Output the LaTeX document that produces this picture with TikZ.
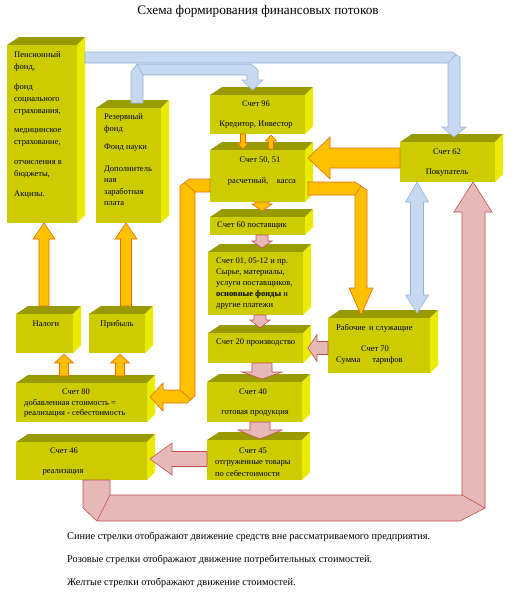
\documentclass[tikz,border=0pt]{standalone}
\usepackage{fontspec}
\setmainfont{Liberation Serif}
\definecolor{frontc}{RGB}{204,204,0}
\definecolor{topc}{RGB}{153,153,0}
\definecolor{sidec}{RGB}{235,235,0}
\definecolor{bluef}{RGB}{198,217,241}
\definecolor{blued}{RGB}{149,179,215}
\definecolor{orangef}{RGB}{255,192,0}
\definecolor{oranged}{RGB}{228,108,10}
\definecolor{pinkf}{RGB}{230,185,184}
\definecolor{pinkd}{RGB}{192,80,77}
\tikzset{
  bluearr/.style={fill=bluef, draw=blued, line width=0.6pt},
  orarr/.style={fill=orangef, draw=oranged, line width=0.6pt},
  pkarr/.style={fill=pinkf, draw=pinkd, line width=0.6pt},
  txt/.style={font=\fontsize{8.5}{12}\selectfont, inner sep=0pt},
  ttl/.style={font=\fontsize{13.2}{15}\selectfont, inner sep=0pt},
  leg/.style={font=\fontsize{10.3}{12}\selectfont, inner sep=0pt, anchor=west},
}
% cube: name, x1, y1, x2, y2 (front face)
\newcommand\cubebox[5]{%
  \fill[topc] (#2,#3) -- (#2+12,#3-8) -- (#4+8,#3-8) -- (#4,#3) -- cycle;
  \fill[sidec] (#4,#3) -- (#4+8,#3-8) -- (#4+8,#5-8) -- (#4,#5) -- cycle;
  \fill[frontc] (#2,#3) rectangle (#4,#5);
  \coordinate (#1) at ({(#2+#4)/2},{(#3+#5)/2});
}
% vertical block arrow: style, cx, y1 (tail), y2 (head base), y3 (tip), shaft half, head half
\newcommand\varr[7]{%
  \draw[#1] (#2-#6,#3) -- (#2+#6,#3) -- (#2+#6,#4) -- (#2+#7,#4) -- (#2,#5)
    -- (#2-#7,#4) -- (#2-#6,#4) -- cycle;
}
% horizontal block arrow: style, cy, x1 (tail), x2 (head base), x3 (tip), shaft half, head half
\newcommand\harr[7]{%
  \draw[#1] (#3,#2-#6) -- (#3,#2+#6) -- (#4,#2+#6) -- (#4,#2+#7) -- (#5,#2)
    -- (#4,#2-#7) -- (#4,#2-#6) -- cycle;
}
\begin{document}
\begin{tikzpicture}[x=1pt,y=-1pt]
\useasboundingbox[fill=white] (0,0) rectangle (517,600);

\node[ttl] (title) at (258,11) {Схема формирования финансовых потоков};

% boxes
\cubebox{bA}{7}{45}{77}{223}
\cubebox{bB}{96}{108}{161}{223}
\cubebox{bC}{210}{95}{305}{134}
\cubebox{bD}{210}{150}{305}{202}
\cubebox{bE}{400}{142}{495}{182}
\cubebox{bF}{210}{217}{305}{235}
\cubebox{bG}{208}{252}{303}{315}
\cubebox{bH}{208}{333}{303}{363}
\cubebox{bI}{207}{382}{302}{422}
\cubebox{bJ}{207}{440}{302}{480}
\cubebox{bK}{328}{318}{430}{373}
\cubebox{bL}{16}{314}{73}{353}
\cubebox{bM}{89}{314}{145}{353}
\cubebox{bN}{16}{383}{147}{422}
\cubebox{bO}{16}{442}{147}{480}

% blue arrows
\draw[bluearr] (131,103) -- (131,72) -- (137,64) -- (251,64) -- (258,70) -- (258,80)
  -- (263,80) -- (252.5,90) -- (242,80) -- (247,80) -- (247,75) -- (143,75) -- (143,103) -- cycle;
\draw[bluearr] (137,64) -- (143,75);
\draw[bluearr] (85,52) -- (452,52) -- (460,57) -- (460,127) -- (466,127) -- (454,137)
  -- (442,127) -- (448,127) -- (448,63) -- (85,63) -- cycle;
\draw[bluearr] (448,63) -- (456,54.5);
\draw[bluearr] (417,182) -- (428.5,202) -- (423.5,202) -- (423.5,295) -- (428.5,295)
  -- (417,313) -- (405.5,295) -- (410.5,295) -- (410.5,202) -- (405.5,202) -- cycle;

% orange arrows
\varr{orarr}{243}{134}{143}{149}{2.5}{5.5}
\varr{orarr}{271}{149}{141}{135}{2.5}{5.5}
\varr{orarr}{262}{202}{204}{211}{7}{10}
\harr{orarr}{158}{400}{330}{308}{10}{21}
\varr{orarr}{44}{306}{239}{223}{5}{11}
\varr{orarr}{126}{306}{239}{223}{5.5}{11}
\varr{orarr}{64}{376}{363}{354}{4.5}{9.5}
\varr{orarr}{120}{376}{363}{354}{4.5}{9.5}
\draw[orarr] (210,179) -- (189,179) -- (180,186) -- (180,390) -- (163,390) -- (163,383)
  -- (150,397) -- (163,411) -- (163,403) -- (187,403) -- (195,396) -- (195,192) -- (210,192) -- cycle;
\draw[orarr] (195,192) -- (184.5,182.5);
\draw[orarr] (180,390) -- (191,399.5);
\draw[orarr] (308,182) -- (355,182) -- (367,190) -- (367,288) -- (373,288) -- (361,315)
  -- (349,288) -- (355,288) -- (355,195) -- (308,195) -- cycle;
\draw[orarr] (355,195) -- (361,186);

% pink arrows
\varr{pkarr}{262}{235}{241}{248}{6}{10}
\varr{pkarr}{260}{315}{320}{328}{6}{10}
\varr{pkarr}{262}{363}{372}{379}{10}{20}
\varr{pkarr}{260}{422}{430}{439}{10}{22}
\harr{pkarr}{348}{328}{317}{308}{6.5}{13.5}
\harr{pkarr}{459}{207}{172}{150}{7.5}{16}
\draw[pkarr] (83,480) -- (110,480) -- (110,495) -- (462,495) -- (462,212) -- (454,212)
  -- (473,182) -- (492,212) -- (485,212) -- (485,508) -- (460,521) -- (97,521) -- (83,508) -- cycle;
\draw[pkarr] (110,495) -- (97,521);
\draw[pkarr] (462,495) -- (485,508);

% texts
\node[txt, anchor=north west, align=left] (tA) at (14,51.5)
  {Пенсионный\\фонд,\\[8pt] фонд\\социального\\страхования,\\[7pt]медицинское\\страхование,\\[8pt]отчисления в\\бюджеты,\\[8pt]Акцизы.};
\node[txt, anchor=north west, align=left, font=\fontsize{8.5}{11.5}\selectfont] (tB) at (104,113.5)
  {Резервный\\фонд\\[7pt]Фонд науки\\[10pt]Дополнитель\\ная\\заработная\\плата};
\node[txt] (tC1) at (256,104) {Счет 96};
\node[txt] (tC2) at (256,125) {Кредитор, Инвестор};
\node[txt] (tD1) at (260,160) {Счет 50, 51};
\node[txt] (tD2) at (262,181) {расчетный,\quad касса};
\node[txt] (tE1) at (447,152) {Счет 62};
\node[txt] (tE2) at (447,173) {Покупатель};
\node[txt, anchor=west] (tF) at (217,226) {Счет 60 поставщик};
\node[txt, anchor=north west, align=left, font=\fontsize{8.5}{11}\selectfont] (tG) at (216,257.5)
  {Счет 01, 05-12 и пр.\\Сырье, материалы,\\услуги поставщиков,\\\textbf{основные фонды} и\\другие платежи};
\node[txt, anchor=west] (tH) at (216,343) {Счет 20 производство};
\node[txt] (tI1) at (253,392) {Счет 40};
\node[txt] (tI2) at (255,413) {готовая продукция};
\node[txt] (tJ1) at (253,451) {Счет 45};
\node[txt, anchor=west] (tJ2) at (215,463) {отгруженные товары};
\node[txt, anchor=west] (tJ3) at (215,473) {по себестоимости};
\node[txt, anchor=west] (tK1) at (336,328) {Рабочие\, и служащие};
\node[txt] (tK2) at (375,349) {Счет 70};
\node[txt, anchor=west] (tK3) at (336,360) {Сумма\hspace{10pt} тарифов};
\node[txt] (tL) at (46,324) {Налоги};
\node[txt] (tM) at (117,324) {Прибыль};
\node[txt] (tN1) at (76,392) {Счет 80};
\node[txt, anchor=west] (tN2) at (24,403) {добавленная стоимость =};
\node[txt, anchor=west] (tN3) at (24,413) {реализация - себестоимость};
\node[txt] (tO1) at (64,451) {Счет 46};
\node[txt] (tO2) at (63,472) {реализация};

\node[leg] (lg1) at (67,537) {Синие стрелки отображают движение средств вне рассматриваемого предприятия.};
\node[leg] (lg2) at (67,560) {Розовые стрелки отображают движение потребительных стоимостей.};
\node[leg] (lg3) at (67,583) {Желтые стрелки отображают движение стоимостей.};
\end{tikzpicture}
\end{document}
